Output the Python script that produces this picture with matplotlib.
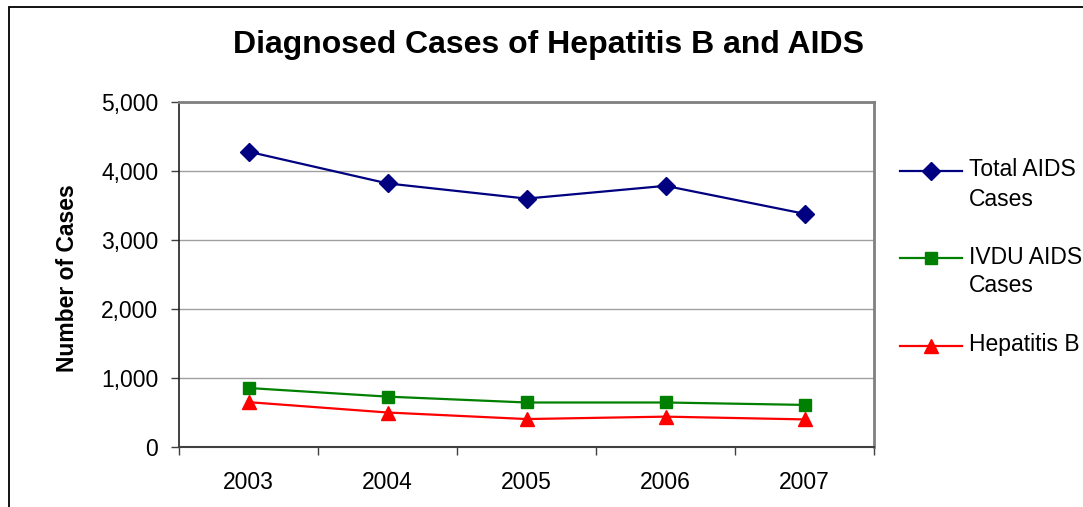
import matplotlib
matplotlib.use("Agg")
import matplotlib.pyplot as plt
from matplotlib.lines import Line2D
from matplotlib.patches import Rectangle
from matplotlib.ticker import FuncFormatter, FixedLocator

# -----------------------------------------------------------------------------
# Datos
# -----------------------------------------------------------------------------
years = ["2003", "2004", "2005", "2006", "2007"]
total_aids = [4280, 3820, 3600, 3785, 3380]
ivdu_aids = [855, 730, 645, 645, 610]
hepatitis_b = [650, 500, 405, 440, 400]

series_labels = ["Total AIDS\nCases", "IVDU AIDS\nCases", "Hepatitis B"]
series_colors = ["#000080", "#008000", "#FF0000"]
series_markers = ["D", "s", "^"]
series_msize = [9, 8, 10]

plt.rcParams["font.family"] = ["Liberation Sans", "DejaVu Sans"]

W, H = 1083, 507
fig = plt.figure(figsize=(W / 100, H / 100), dpi=100)

def fx(px):
    return px / W

def fy(py):
    return 1 - py / H

# marco del área del gráfico (cortado a derecha y abajo)
fig.add_artist(Rectangle((fx(9), -0.2), 1.5, fy(7) + 0.2, fill=False,
                         edgecolor="black", lw=1.3, transform=fig.transFigure,
                         clip_on=False))

ax = fig.add_axes([fx(179), fy(447), fx(874) - fx(179), fy(102) - fy(447)])

x = list(range(1, len(years) + 1))
for vals, col, mk, ms in zip([total_aids, ivdu_aids, hepatitis_b],
                             series_colors, series_markers, series_msize):
    ax.plot(x, vals, color=col, marker=mk, markersize=ms, lw=1.6,
            markeredgecolor=col, zorder=3)

ax.set_xlim(0.5, len(years) + 0.5)
ax.set_ylim(0, 5000)
ax.set_yticks(range(0, 5001, 1000))
ax.yaxis.set_major_formatter(FuncFormatter(lambda v, p: f"{int(v):,}"))
ax.yaxis.grid(True, color="#A0A0A0", lw=1)
ax.set_axisbelow(True)

ax.xaxis.set_major_locator(FixedLocator([i + 0.5 for i in range(len(years) + 1)]))
ax.xaxis.set_major_formatter(FuncFormatter(lambda v, p: ""))
ax.xaxis.set_minor_locator(FixedLocator(x))
ax.set_xticklabels(years, minor=True)
ax.tick_params(axis="x", which="minor", length=0, pad=17, labelsize=16.5)
ax.tick_params(axis="x", which="major", length=6, width=1, color="#404040",
               direction="out")
ax.tick_params(axis="y", length=6, width=1, color="#404040", pad=9,
               labelsize=16.5, direction="out")

for side in ["top", "right"]:
    ax.spines[side].set_color("#808080")
    ax.spines[side].set_linewidth(2)
ax.spines["left"].set_color("#202020")
ax.spines["bottom"].set_color("#404040")
ax.spines["left"].set_linewidth(1.2)
ax.spines["bottom"].set_linewidth(1.5)

fig.text(fx(548), fy(45), "Diagnosed Cases of Hepatitis B and AIDS",
         ha="center", va="center", fontsize=23, fontweight="bold")
fig.text(fx(68), fy(278), "Number of Cases", rotation=90, ha="center",
         va="center", fontsize=16.5, fontweight="bold")

# leyenda manual (marcador alineado con la primera línea del texto)
leg_y = [171, 258, 346]
for lab, col, mk, ms, yy in zip(series_labels, series_colors, series_markers,
                                series_msize, leg_y):
    fig.add_artist(Line2D([fx(900), fx(931), fx(962)], [fy(yy)] * 3,
                          transform=fig.transFigure, color=col, lw=1.6,
                          marker=mk, markersize=ms, markevery=[1],
                          markeredgecolor=col))
    for k, line in enumerate(lab.split("\n")):
        fig.text(fx(969), fy(yy - 1 + 29 * k), line, ha="left", va="center",
                 fontsize=16.5)

fig.savefig("out.png", dpi=100)
